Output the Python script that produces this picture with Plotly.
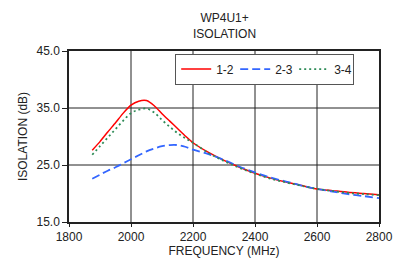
import plotly.graph_objects as go

freq = [1875, 1900, 1925, 1950, 1975, 2000, 2025, 2050, 2075, 2100, 2125, 2150, 2175, 2200,
        2250, 2300, 2350, 2400, 2450, 2500, 2550, 2600, 2650, 2700, 2750, 2800]
iso_12 = [27.6, 29.1, 30.8, 32.4, 34.1, 35.5, 36.2, 36.3, 35.4, 34.0, 32.7, 31.4, 30.1, 28.9,
          27.2, 25.8, 24.6, 23.55, 22.7, 22.0, 21.4, 20.8, 20.5, 20.2, 20.0, 19.8]
iso_23 = [22.6, 23.3, 24.0, 24.6, 25.3, 26.0, 26.7, 27.4, 27.9, 28.3, 28.5, 28.5, 28.2, 27.7,
          26.9, 25.9, 24.7, 23.7, 22.8, 22.1, 21.4, 20.8, 20.35, 19.9, 19.55, 19.2]
iso_34 = [26.8, 28.3, 29.8, 31.3, 32.8, 34.1, 34.7, 34.9, 34.2, 32.9, 31.7, 30.6, 29.7, 28.9,
          27.1, 25.7, 24.5, 23.5, 22.6, 21.95, 21.35, 20.8, 20.45, 20.1, 19.9, 19.7]
y_ticks = [15, 25, 35, 45]
x_ticks = [1800, 2000, 2200, 2400, 2600, 2800]

fig = go.Figure()
fig.add_trace(go.Scatter(x=freq, y=iso_12, name="1-2", mode="lines",
                         line=dict(color="#ff0000", width=1.5, shape="spline", smoothing=0.6)))
fig.add_trace(go.Scatter(x=freq, y=iso_23, name="2-3", mode="lines",
                         line=dict(color="#3366ff", width=1.8, dash="8px,4px", shape="spline")))
fig.add_trace(go.Scatter(x=freq, y=iso_34, name="3-4", mode="lines",
                         line=dict(color="#2e8b57", width=1.8, dash="2px,3px", shape="spline")))

# grid lines drawn at the tick values through the axis scales
for xv in x_ticks[1:-1]:
    fig.add_shape(type="line", xref="x", yref="paper", x0=xv, x1=xv, y0=0, y1=1,
                  line=dict(color="#222", width=1), layer="below")
for yv in y_ticks[1:-1]:
    fig.add_shape(type="line", xref="paper", yref="y", x0=0, x1=1, y0=yv, y1=yv,
                  line=dict(color="#222", width=1), layer="below")

font = "Liberation Sans, Arial, sans-serif"
# the page body has an 8px margin, so the figure is sized/offset to compensate
fig.update_layout(
    width=397, height=259,
    margin=dict(l=61, r=19, t=43, b=45),
    paper_bgcolor="white", plot_bgcolor="white",
    font=dict(family=font, size=12, color="#222"),
    showlegend=True,
    legend=dict(orientation="h", x=0.92, xanchor="right", y=0.985, yanchor="top",
                bordercolor="#555", borderwidth=1, bgcolor="white",
                font=dict(size=12), itemwidth=30, tracegroupgap=0,
                entrywidth=14, entrywidthmode="pixels"),
    annotations=[dict(text="WP4U1+<br>ISOLATION", x=0.5, xref="paper", y=1, yref="paper",
                      xanchor="center", yanchor="bottom", yshift=8, showarrow=False,
                      font=dict(size=12, color="#222"))],
    xaxis=dict(range=[1800, 2800], tickvals=x_ticks, showgrid=False,
               showline=True, linecolor="#222", linewidth=1.5, mirror=True,
               ticks="outside", ticklen=3, tickcolor="#222", zeroline=False,
               title=dict(text="FREQUENCY (MHz)", standoff=2, font=dict(size=12))),
    yaxis=dict(range=[15, 45], tickvals=y_ticks, tickformat=".1f", showgrid=False,
               showline=True, linecolor="#222", linewidth=1.5, mirror=True,
               ticks="outside", ticklen=5, tickcolor="#222", zeroline=False,
               title=dict(text="ISOLATION (dB)", standoff=6, font=dict(size=12))),
)
fig.write_html("out.html")
